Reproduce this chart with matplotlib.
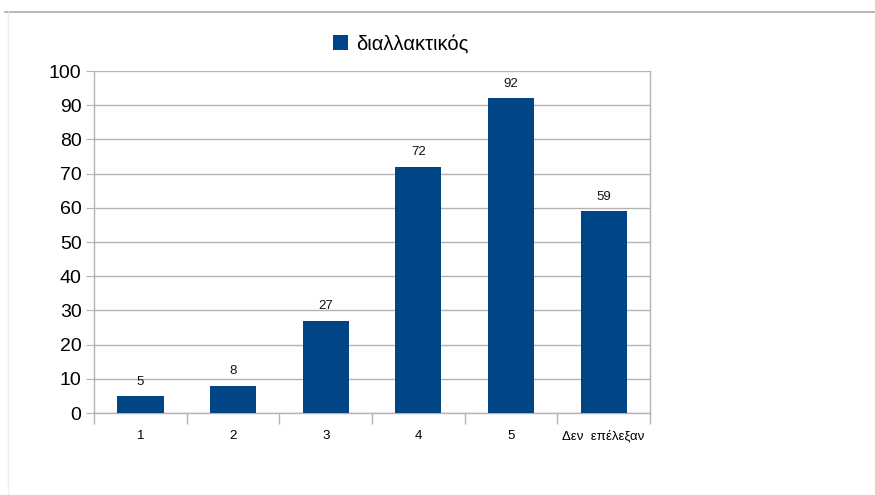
import matplotlib
matplotlib.use("Agg")
import matplotlib.pyplot as plt
from matplotlib.lines import Line2D

plt.rcParams['font.family'] = ['Liberation Sans', 'DejaVu Sans']

categories = ["1", "2", "3", "4", "5", "Δεν  επέλεξαν"]
values = [5, 8, 27, 72, 92, 59]
series_name = "διαλλακτικός"
bar_color = "#004586"
grid_color = "#b3b3b3"

W, H = 875, 495
fig = plt.figure(figsize=(W / 100, H / 100), dpi=100)
fig.patch.set_facecolor("white")

# frame lines around the chart area
fig.add_artist(Line2D([5 / W, 1], [1 - 12 / H, 1 - 12 / H], color="#aaaaaa", lw=1.2))
fig.add_artist(Line2D([8 / W, 8 / W], [0, 1 - 12 / H], color="#eeeeee", lw=1))

left, right, top, bottom = 94, 650, 71, 413
ax = fig.add_axes([left / W, 1 - bottom / H, (right - left) / W, (bottom - top) / H])

x = list(range(len(categories)))
bars = ax.bar(x, values, width=0.5, color=bar_color, zorder=3, label=series_name)
for xi, v in zip(x, values):
    ax.annotate(str(v), (xi, v), xytext=(0, 6), textcoords="offset points",
                ha="center", va="bottom", fontsize=9.5, color="#111111")

ax.set_xlim(-0.5, len(categories) - 0.5)
ax.set_ylim(0, 100)
ax.set_yticks(range(0, 101, 10))
ax.tick_params(axis="y", labelsize=14, length=6, color=grid_color, pad=3)
ax.yaxis.grid(True, color=grid_color, lw=1, zorder=0)

# category labels centred, ticks on category boundaries
ax.set_xticks(x)
ax.set_xticklabels(categories, fontsize=9.5)
ax.tick_params(axis="x", length=0, pad=12)
ax.set_xticks([i + 0.5 for i in range(-1, len(categories))], minor=True)
ax.tick_params(axis="x", which="minor", length=8, color=grid_color, width=1)

ax.spines["top"].set_visible(False)
for side in ("left", "right", "bottom"):
    ax.spines[side].set_color(grid_color)
    ax.spines[side].set_linewidth(1)

fig.legend(handles=[bars], labels=[series_name], loc="center",
           bbox_to_anchor=(401 / W, 1 - 44 / H), frameon=False, fontsize=14.5,
           handlelength=0.75, handleheight=0.75, handletextpad=0.4)

fig.savefig("out.png", dpi=100, facecolor="white")
